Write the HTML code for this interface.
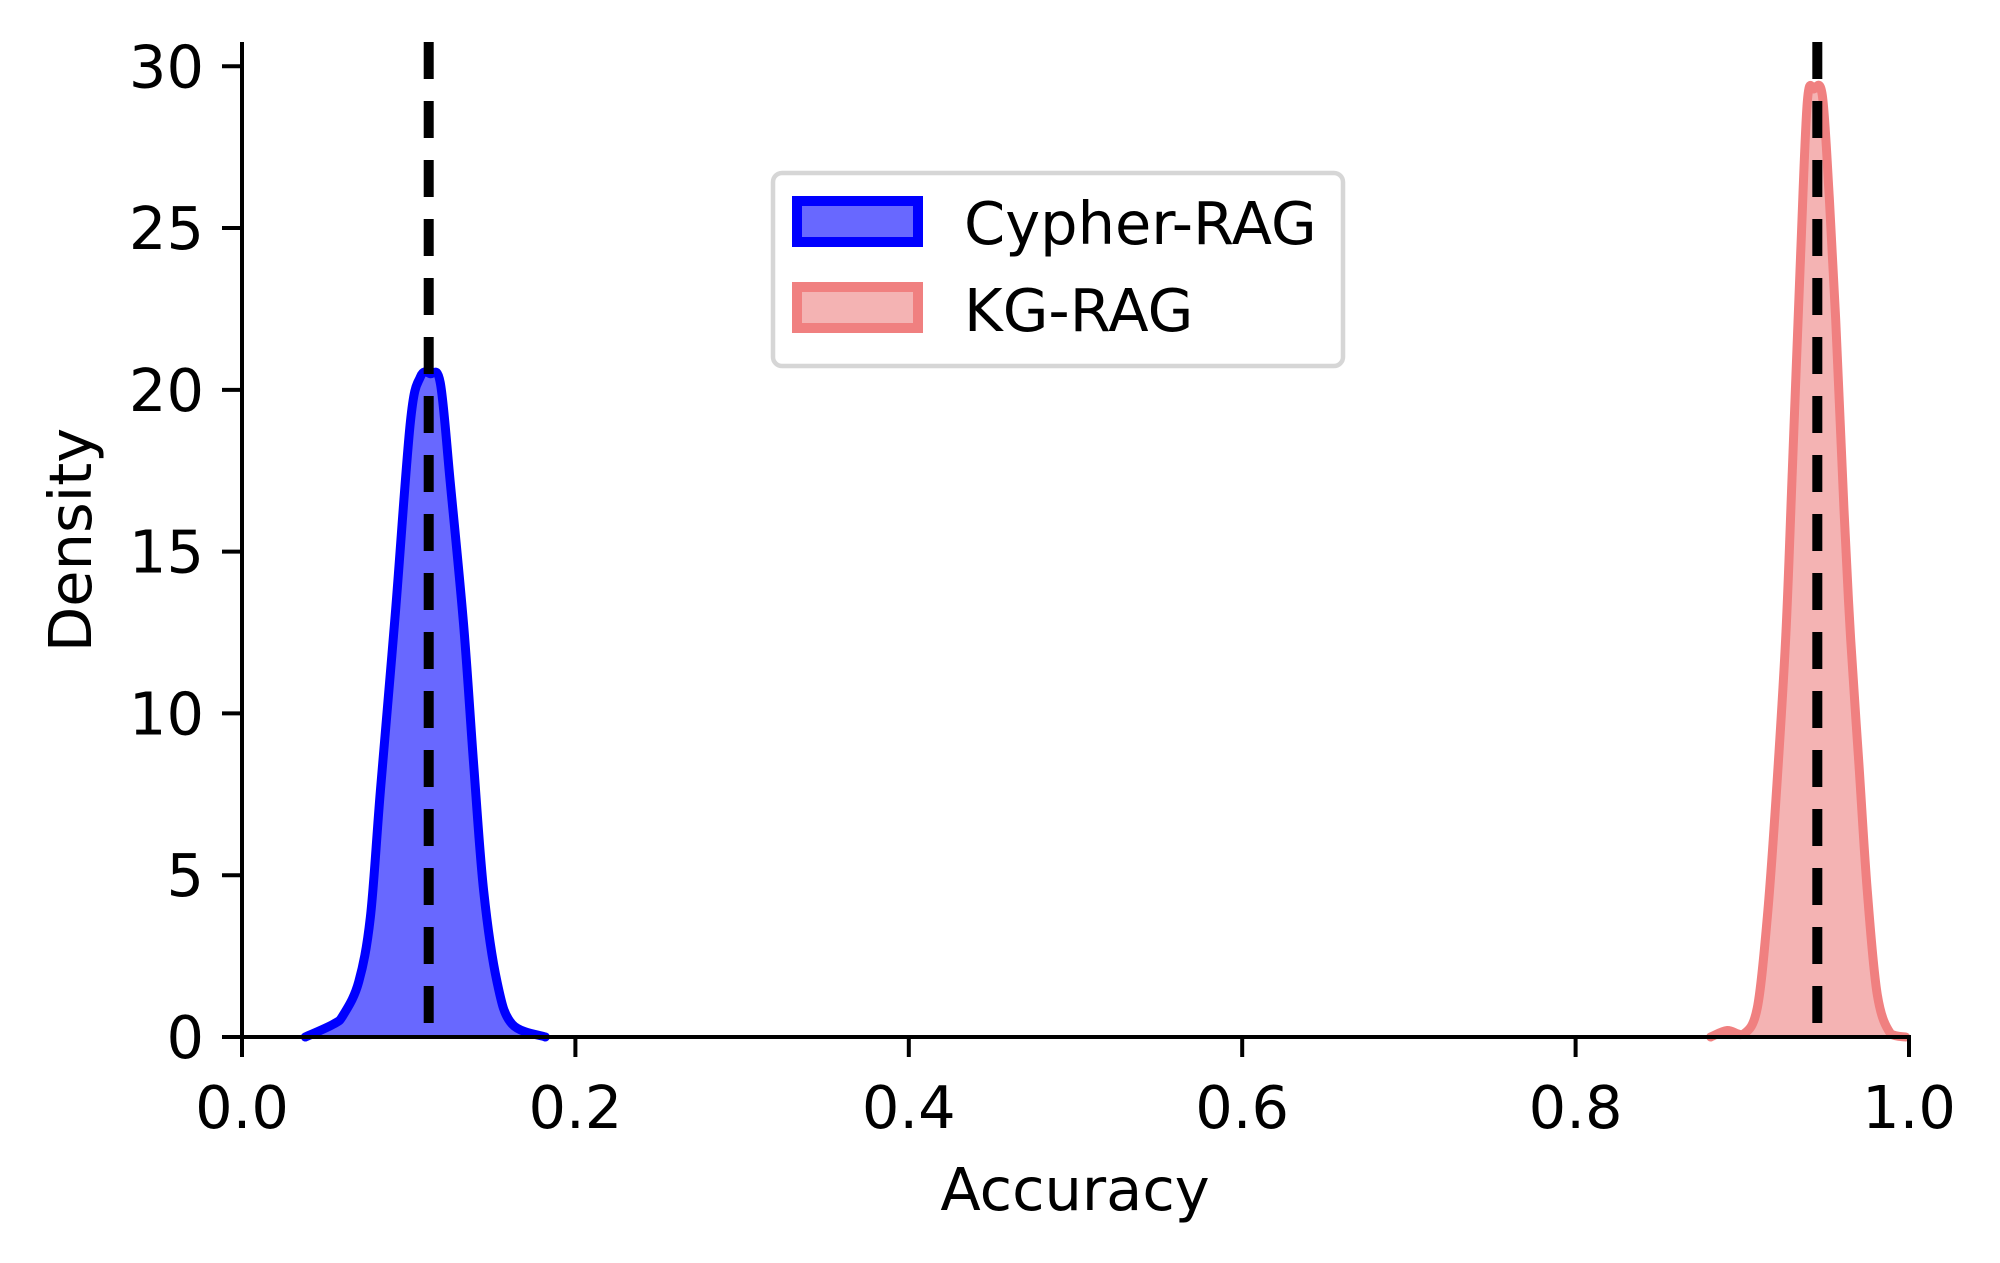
<!DOCTYPE html>
<html><head><meta charset="utf-8"><style>
html,body{margin:0;padding:0;background:#fff;}
svg{display:block;font-family:"DejaVu Sans","Liberation Sans",sans-serif;}
</style></head><body>
<svg id="chart" width="2000" height="1263" viewBox="0 0 2000 1263" xmlns="http://www.w3.org/2000/svg">
<g id="plot"></g>
<g id="axes"></g>
<text x="1075" y="1210" font-size="59" text-anchor="middle">Accuracy</text>
<text transform="translate(91,540) rotate(-90)" font-size="59" text-anchor="middle">Density</text>
<g>
<rect x="773" y="173" width="570" height="193" rx="9" fill="#fff" fill-opacity="0.8" stroke="#d6d6d6" stroke-width="4.5"/>
<g>
<rect x="797" y="201" width="121" height="41" fill="#6868ff" stroke="#0000ff" stroke-width="10"/>
<text x="964" y="244" font-size="59">Cypher-RAG</text>
</g>
<g>
<rect x="797" y="287" width="121" height="41" fill="#f4b3b3" stroke="#f08080" stroke-width="10"/>
<text x="964" y="331" font-size="59">KG-RAG</text>
</g>
</g>
</svg>
<script>
const cypherX = [0.038,0.055,0.061,0.070,0.077,0.083,0.092,0.101,0.107,0.113,0.119,0.125,0.133,0.139,0.145,0.153,0.162,0.182];
const cypherY = [0,0.4,0.7,1.7,3.7,7.6,13.1,19.0,20.4,20.5,20.2,17.1,12.7,8.4,4.5,1.7,0.4,0];
const kgX = [0.881,0.891,0.901,0.909,0.915,0.920,0.926,0.930,0.935,0.939,0.943,0.948,0.952,0.956,0.961,0.965,0.970,0.975,0.981,0.989,0.998];
const kgY = [0,0.2,0.1,0.9,3.7,7.2,12.3,17.5,24.2,28.9,29.3,29.1,26.1,22.2,16.3,12.3,8.4,4.5,1.3,0.1,0];
const means = [0.112, 0.945];
const xTicks = [0,0.2,0.4,0.6,0.8,1.0];
const xTickLabels = ["0.0","0.2","0.4","0.6","0.8","1.0"];
const yTicks = [0,5,10,15,20,25,30];
const yTickLabels = ["0","5","10","15","20","25","30"];

const X0=242,X1=1909,Y0=1037,YTOP=42,YMAX=30.75;
const xs=v=>X0+(X1-X0)*v;
const ys=v=>Y0-(Y0-YTOP)*v/YMAX;
const NS="http://www.w3.org/2000/svg";
const plot=document.getElementById('plot'), axes=document.getElementById('axes');
function mk(tag,attrs,parent){const e=document.createElementNS(NS,tag);for(const k in attrs)e.setAttribute(k,attrs[k]);parent.appendChild(e);return e;}

function area(xv,yv,fill,stroke,name){
  const P=xv.map((v,i)=>[xs(v),ys(yv[i])]);
  let d='M'+P[0][0]+','+P[0][1];
  for(let i=0;i<P.length-1;i++){
    const p0=P[Math.max(0,i-1)],p1=P[i],p2=P[i+1],p3=P[Math.min(P.length-1,i+2)];
    const c1=[p1[0]+(p2[0]-p0[0])/6,p1[1]+(p2[1]-p0[1])/6];
    const c2=[p2[0]-(p3[0]-p1[0])/6,p2[1]-(p3[1]-p1[1])/6];
    d+=' C'+c1[0]+','+Math.min(c1[1],Y0)+' '+c2[0]+','+Math.min(c2[1],Y0)+' '+p2[0]+','+p2[1];
  }
  const p=mk('path',{d:d+' Z',fill:fill,stroke:'none'},plot);
  
  
  const l=mk('path',{d:d,fill:'none',stroke:stroke,'stroke-width':9,'stroke-linejoin':'round','stroke-linecap':'round'},plot);
  
  
}
area(cypherX,cypherY,'#6868ff','#0000ff','cypher-rag-kde');
area(kgX,kgY,'#f4b3b3','#f08080','kg-rag-kde');
means.forEach((m,i)=>{
  const l=mk('line',{x1:xs(m),x2:xs(m),y1:YTOP,y2:Y0,stroke:'#000','stroke-width':10,'stroke-dasharray':'37 22'},plot);
  
  
});
const sl=mk('line',{x1:X0,x2:X0,y1:YTOP,y2:Y0+2,stroke:'#000','stroke-width':4},axes);


const sb=mk('line',{x1:X0-2,x2:X1+2,y1:Y0,y2:Y0,stroke:'#000','stroke-width':4},axes);


xTicks.forEach((v,i)=>{
  const t=mk('line',{x1:xs(v),x2:xs(v),y1:Y0,y2:Y0+20,stroke:'#000','stroke-width':4},axes);
  
  
  const tx=mk('text',{x:xs(v),y:Y0+91,'font-size':59,'text-anchor':'middle'},axes);
  tx.textContent=xTickLabels[i];
  
  
});
yTicks.forEach((v,i)=>{
  const t=mk('line',{x1:X0-20,x2:X0,y1:ys(v),y2:ys(v),stroke:'#000','stroke-width':4},axes);
  
  
  const tx=mk('text',{x:X0-38,y:ys(v)+21,'font-size':59,'text-anchor':'end'},axes);
  tx.textContent=yTickLabels[i];
  
  
});
</script>
</body></html>
